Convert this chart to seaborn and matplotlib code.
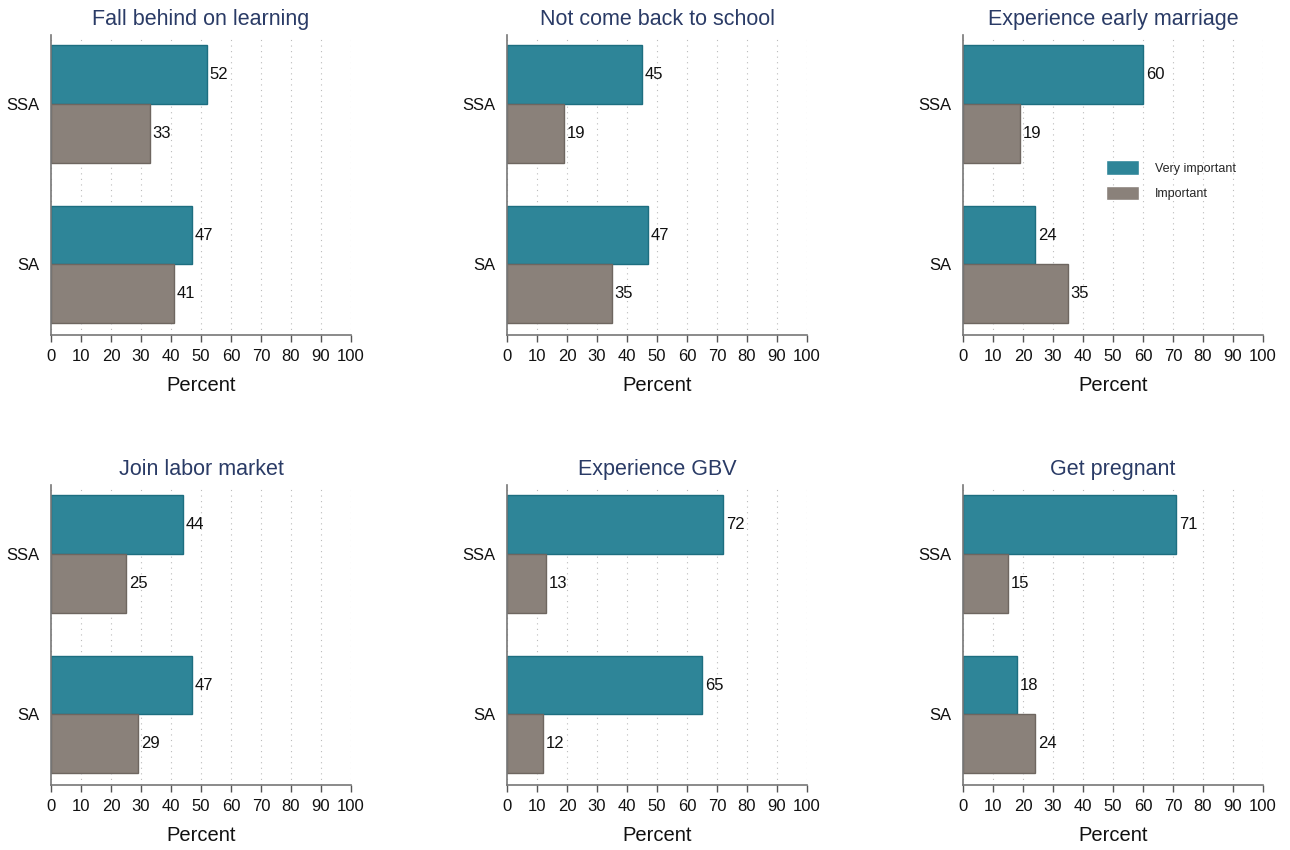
import pandas as pd
import seaborn as sns
import matplotlib.pyplot as plt

# -----------------------
# Data
# -----------------------

titles = [
    "Fall behind on learning",
    "Not come back to school",
    "Experience early marriage",
    "Join labor market",
    "Experience GBV",
    "Get pregnant",
]
regions = ["SSA", "SA"]
levels = ["Very important", "Important"]

# per panel: [SSA, SA]
very_important = [
    [52, 47],
    [45, 47],
    [60, 24],
    [44, 47],
    [72, 65],
    [71, 18],
]
important = [
    [33, 41],
    [19, 35],
    [19, 35],
    [25, 29],
    [13, 12],
    [15, 24],
]

rows = []
for t, vi, im in zip(titles, very_important, important):
    for r, a, b in zip(regions, vi, im):
        rows.append({"Panel": t, "Region": r, "Level": levels[0], "Percent": a})
        rows.append({"Panel": t, "Region": r, "Level": levels[1], "Percent": b})
data = pd.DataFrame(rows)

# -----------------------
# Style
# -----------------------

sns.set_theme(style="white")
plt.rcParams["font.family"] = ["Liberation Sans", "DejaVu Sans"]

palette = {"Very important": "#2e8598", "Important": "#8a817a"}
edges = {"Very important": "#1d6e80", "Important": "#6e6660"}
title_color = "#2a3b66"

W, H = 1290, 850
fig = plt.figure(figsize=(W / 100, H / 100), dpi=100)

col_x = [51, 507, 963]
row_y = [35, 485]
aw, ah = 300, 300

for i, t in enumerate(titles):
    cx = col_x[i % 3]
    ry = row_y[i // 3]
    ax = fig.add_axes([cx / W, 1 - (ry + ah) / H, aw / W, ah / H])

    sub = data[data["Panel"] == t]
    sns.barplot(
        data=sub,
        y="Region",
        x="Percent",
        hue="Level",
        order=regions,
        hue_order=levels,
        palette=palette,
        saturation=1,
        orient="h",
        width=0.73,
        errorbar=None,
        legend=(i == 2),
        ax=ax,
    )

    for cont, lev in zip(ax.containers, levels):
        for p in cont:
            p.set_edgecolor(edges[lev])
            p.set_linewidth(1.0)
        ax.bar_label(cont, fmt="%d", padding=2, fontsize=12, color="#111111")

    ax.set_xlim(0, 100)
    ax.set_ylim(1.44, -0.43)
    ax.set_xticks(range(0, 101, 10))
    ax.tick_params(axis="x", labelsize=12, length=5, width=1, color="#555555",
                   pad=5, bottom=True, labelcolor="#111111")
    ax.tick_params(axis="y", labelsize=12, length=0, pad=8, labelcolor="#111111")

    ax.grid(axis="x", color="#bbbbbb", linestyle=(0, (1, 4)), linewidth=0.8)
    ax.grid(axis="y", visible=False)
    ax.set_axisbelow(True)

    for s in ["top", "right"]:
        ax.spines[s].set_visible(False)
    for s in ["left", "bottom"]:
        ax.spines[s].set_color("#777777")
        ax.spines[s].set_linewidth(1.2)

    ax.set_title(t, fontsize=15.5, color=title_color, pad=7)
    ax.set_xlabel("Percent", fontsize=14.5, color="#111111", labelpad=9)
    ax.set_ylabel("")

    if i == 2:
        leg = ax.legend(
            loc="upper left",
            bbox_to_anchor=(0.44, 0.62),
            frameon=False,
            fontsize=9,
            handlelength=2.6,
            handleheight=1.4,
            labelspacing=0.9,
            handletextpad=1.3,
        )

plt.savefig("out.png", dpi=100)
plt.close()
